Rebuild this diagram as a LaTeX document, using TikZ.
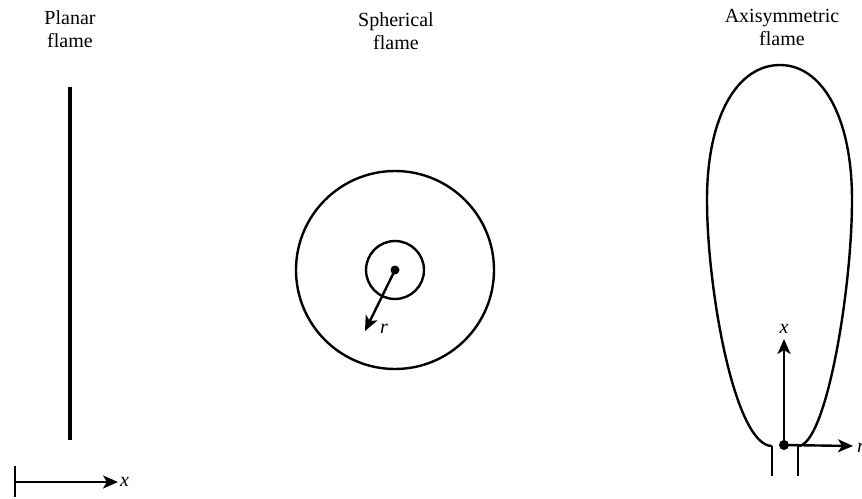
\documentclass[tikz,border=0pt]{standalone}
\usepackage{fontspec}
\setmainfont{Liberation Serif}
\usetikzlibrary{arrows.meta}
\begin{document}
\begin{tikzpicture}[x=1pt,y=-1pt,
  lbl/.style={align=center,inner sep=0pt,anchor=north,font=\fontsize{20}{23}\selectfont},
  var/.style={inner sep=0pt,anchor=base,font=\fontsize{20}{23}\selectfont\itshape},
  ln/.style={line width=2.4pt},
  arr/.style={line width=2.4pt,-{Stealth[length=15pt,width=13pt,inset=4pt]}},
  dot/.style={circle,fill=black,inner sep=0pt,minimum size=10pt}]
\useasboundingbox (0,0) rectangle (862,498);
% titles
\node[lbl] (t1) at (70,10) {Planar\\flame};
\node[lbl] (t2) at (396,12) {Spherical\\flame};
\node[lbl] (t3) at (782,9.5) {Axisymmetric\\flame};
% planar flame
\coordinate (pt) at (70,87);
\coordinate (pb) at (70,440);
\draw[line width=4.5pt] (pt) -- (pb);
\coordinate (ot) at (15,466);
\coordinate (ob) at (15,497);
\coordinate (o) at (15,482);
\coordinate (xe) at (118,482);
\draw[ln] (ot) -- (ob);
\draw[arr] (o) -- (xe);
\node[var,anchor=base west] (xl) at (120,486) {x};
% spherical flame
\node[dot,minimum size=9pt] (c) at (395,270) {};
\draw[ln] (c.center) circle[radius=99];
\draw[ln] (c.center) circle[radius=29];
\coordinate (rt) at (365,331);
\draw[arr] (c.center) -- (rt);
\node[var] (rl) at (384,333) {r};
% axisymmetric flame
\draw[ln] (772,446) .. controls (735,446) and (707,290) .. (707,200)
  .. controls (707,115) and (738,65) .. (780,65)
  .. controls (821,65) and (852,115) .. (852,200)
  .. controls (852,290) and (826,446) .. (798,446);
\node[dot] (d) at (784,445) {};
\coordinate (xa) at (784,339);
\coordinate (ra) at (853,446);
\draw[arr] (d.center) -- (xa);
\draw[arr] (d.center) -- (ra);
\node[var] (xl2) at (784,333) {x};
\node[var,anchor=base west] (rl2) at (857,452) {r};
\coordinate (k1a) at (772,446);
\coordinate (k1b) at (772,476);
\coordinate (k2a) at (798,446);
\coordinate (k2b) at (798,476);
\draw[ln] (k1a) -- (k1b);
\draw[ln] (k2a) -- (k2b);
\end{tikzpicture}
\end{document}
